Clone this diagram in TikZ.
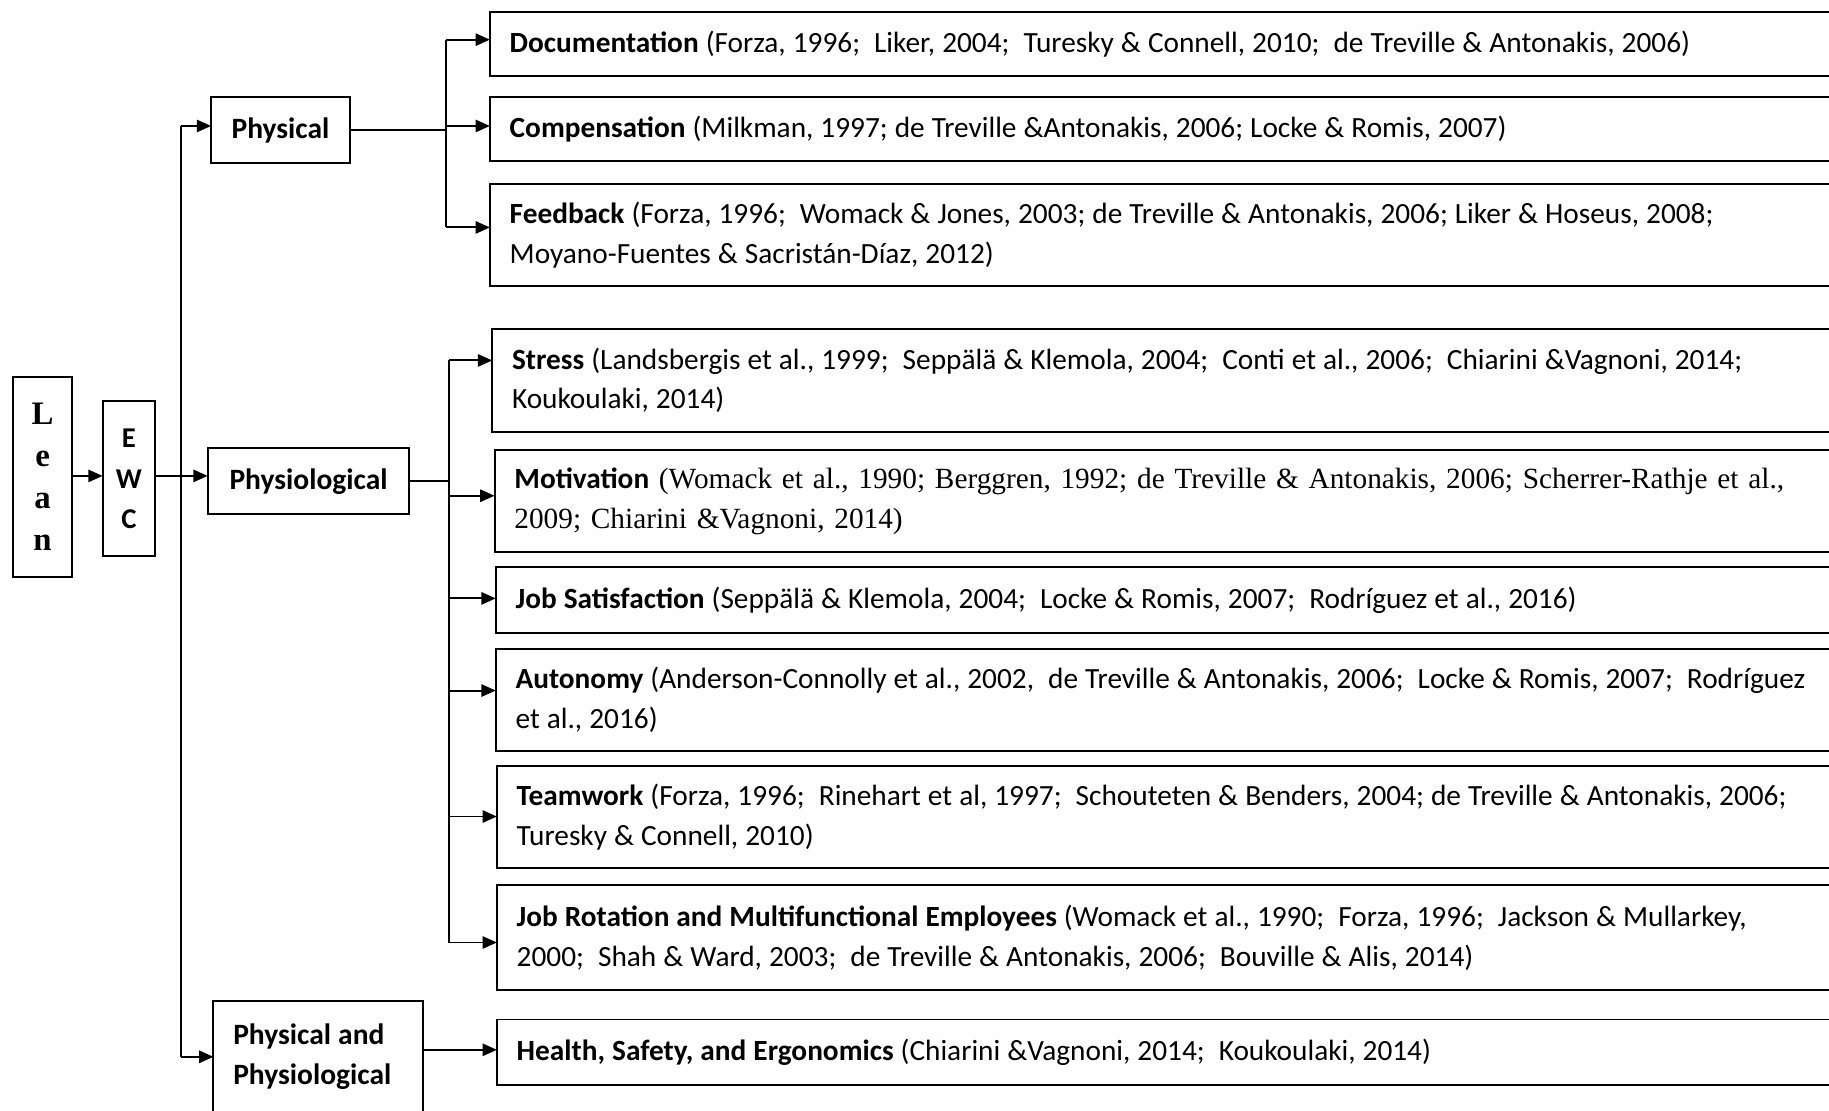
\documentclass[tikz,border=0pt]{standalone}
\usepackage{fontspec}
\setmainfont{Carlito}
\newfontfamily\timesfont{Liberation Serif}
\newfontfamily\leanfont{Liberation Serif}
\usetikzlibrary{arrows.meta}
% tighter interword spacing for the reference lists
\newcommand\refsp{\spaceskip=0.24em plus 0.05em\xspaceskip=0.24em plus 0.05em\relax}

\begin{document}
\begin{tikzpicture}[x=0.02cm,y=-0.02cm,
  line width=0.95pt,
  arr/.style={-{Triangle[length=7pt,width=6pt]}},
  box/.style={draw, inner sep=0pt, outer sep=0pt},
  catbox/.style={box, font=\fontsize{14.4}{19.6}\selectfont\bfseries},
  refbox/.style={box, anchor=north west, align=left, text width=24cm,
    inner xsep=0.34cm, font=\fontsize{14.3}{19.4}\selectfont},
]
\useasboundingbox (0,0) rectangle (1568,952);
\clip (0,0) rectangle (1568,952);

% root and its single child
\node[box, minimum width=1.02cm, minimum height=3.44cm, align=center,
      font=\leanfont\fontsize{16}{20.5}\selectfont\bfseries]
  (lean) at (36.5,409) {L\\e\\a\\n};
\node[box, minimum width=0.9cm, minimum height=2.66cm, align=center,
      font=\fontsize{14}{19.9}\selectfont\bfseries]
  (ewc) at (110.5,410.5) {E\\W\\C};

% categories
\node[catbox, minimum width=2.38cm, minimum height=1.14cm] (phys) at (240.5,111.5) {Physical};
\node[catbox, minimum width=3.46cm, minimum height=1.14cm] (phyo) at (264.5,412.5) {Physiological};
\node[catbox, anchor=north west, text width=2.92cm, inner xsep=0.34cm,
      minimum height=1.92cm, align=left]
  (pap) at (183,858) {\refsp Physical and\\Physiological};

% references of the physical dimension
\node[refbox, minimum height=1.10cm] (doc) at (420,10)
  {\refsp\textbf{Documentation} (Forza, 1996;\ \ Liker, 2004;\ \ Turesky \& Connell, 2010;\ \ de Treville \& Antonakis, 2006)};
\node[refbox, minimum height=1.10cm] (comp) at (420,83)
  {\refsp\textbf{Compensation} (Milkman, 1997; de Treville \&Antonakis, 2006; Locke \& Romis, 2007)};
\node[refbox, minimum height=1.74cm] (feed) at (420,158)
  {\refsp\textbf{Feedback} (Forza, 1996;\ \ Womack \& Jones, 2003; de Treville \& Antonakis, 2006; Liker \& Hoseus, 2008;\\
   Moyano-Fuentes \& Sacristán-Díaz, 2012)};

% references of the physiological dimension
\node[refbox, minimum height=1.76cm] (stress) at (422,282)
  {\refsp\textbf{Stress} (Landsbergis et al., 1999;\ \ Seppälä \& Klemola, 2004;\ \ Conti et al., 2006;\ \ Chiarini \&Vagnoni, 2014;\\
   Koukoulaki, 2014)};
\node[refbox, minimum height=1.74cm] (motiv) at (424,386)
  {\textbf{Motivation} {\timesfont\fontsize{14.3}{19.4}\selectfont(Womack et al., 1990; Berggren, 1992; de Treville \& Antonakis, 2006; Scherrer-Rathje et al.,\\
   2009; Chiarini \&Vagnoni, 2014)}};
\node[refbox, minimum height=1.14cm] (jobsat) at (425,486)
  {\refsp\textbf{Job Satisfaction} (Seppälä \& Klemola, 2004;\ \ Locke \& Romis, 2007;\ \ Rodríguez et al., 2016)};
\node[refbox, minimum height=1.76cm] (auton) at (425,556)
  {\refsp\textbf{Autonomy} (Anderson-Connolly et al., 2002,\ \ de Treville \& Antonakis, 2006;\ \ Locke \& Romis, 2007;\ \ Rodríguez\\
   et al., 2016)};
\node[refbox, minimum height=1.74cm] (team) at (426,657)
  {\refsp\textbf{Teamwork} (Forza, 1996;\ \ Rinehart et al, 1997;\ \ Schouteten \& Benders, 2004; de Treville \& Antonakis, 2006;\\
   Turesky \& Connell, 2010)};
\node[refbox, minimum height=1.80cm] (jobrot) at (426,759)
  {\refsp\textbf{Job Rotation and Multifunctional Employees} (Womack et al., 1990;\ \ Forza, 1996;\ \ Jackson \& Mullarkey,\\
   2000;\ \ Shah \& Ward, 2003;\ \ de Treville \& Antonakis, 2006;\ \ Bouville \& Alis, 2014)};

% reference of the combined dimension
\node[refbox, minimum height=1.12cm] (health) at (426,874)
  {\refsp\textbf{Health, Safety, and Ergonomics} (Chiarini \&Vagnoni, 2014;\ \ Koukoulaki, 2014)};

% junction points on the vertical rails
\coordinate (tj) at (155,408);
\coordinate (pj) at (382,0 |- phys.east);
\coordinate (qj) at (385,0 |- phyo.east);

% Lean -> EWC -> the three categories
\draw[arr] (lean.east |- 0,408) -- (ewc.west |- 0,408);
\draw[arr] (ewc.east |- 0,408) -- (phyo.west |- 0,408);
\draw (tj |- 0,108) -- (tj |- 0,906);
\draw[arr] (tj |- 0,108) -- (phys.west |- 0,108);
\draw[arr] (tj |- 0,906) -- (pap.west |- 0,906);

% Physical -> its references
\draw (phys.east) -- (pj);
\draw (pj |- 0,34) -- (pj |- 0,195);
\draw[arr] (pj |- 0,34) -- (doc.west |- 0,34);
\draw[arr] (pj |- 0,108) -- (comp.west |- 0,108);
\draw[arr] (pj |- 0,195) -- (feed.west |- 0,195);

% Physiological -> its references
\draw (phyo.east) -- (qj);
\draw (qj |- 0,309) -- (qj |- 0,808);
\draw[arr] (qj |- 0,309) -- (stress.west |- 0,309);
\draw[arr] (qj |- 0,425) -- (motiv.west |- 0,425);
\draw[arr] (qj |- 0,513) -- (jobsat.west |- 0,513);
\draw[arr] (qj |- 0,592) -- (auton.west |- 0,592);
\draw[arr] (qj |- 0,700) -- (team.west |- 0,700);
\draw[arr] (qj |- 0,808) -- (jobrot.west |- 0,808);

% Physical and Physiological -> its reference
\draw[arr] (pap.east |- 0,900) -- (health.west |- 0,900);
\end{tikzpicture}
\end{document}
